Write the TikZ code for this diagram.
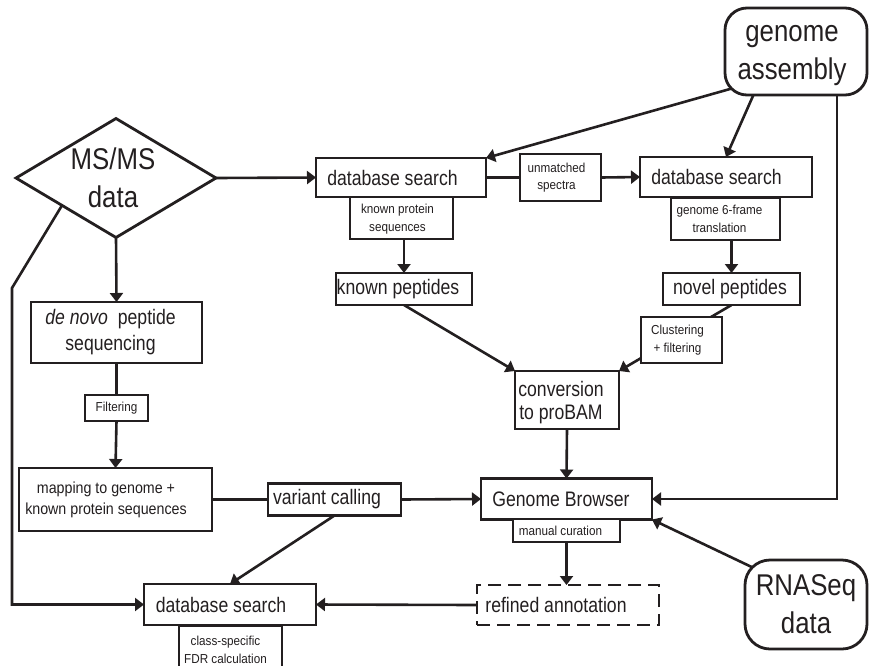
\documentclass[tikz,border=0pt]{standalone}
\usepackage{fontspec}
\setmainfont{Liberation Sans}
\newfontfamily\fbig{Liberation Sans}[FakeStretch=0.86]
\newfontfamily\fmed{Liberation Sans}[FakeStretch=0.84]
\newfontfamily\fmap{Liberation Sans}[FakeStretch=0.89]
\newfontfamily\fsmall{Liberation Sans}[FakeStretch=0.9]
\usetikzlibrary{shapes.geometric,arrows.meta,calc}
\pgfdeclarelayer{bg}
\pgfsetlayers{bg,main}
\definecolor{ink}{RGB}{35,31,32}
\newcommand{\Rs}[1]{\hspace*{#1pt}}
\newcommand{\Up}[1]{\rule{0pt}{#1pt}}
\begin{document}
\begin{tikzpicture}[x=1pt,y=-1pt,
  box/.style={draw=ink, line width=2.8pt, fill=white, inner sep=0pt, outer sep=0pt, align=center, text=ink},
  lbl/.style={draw=ink, line width=1.4pt, fill=white, inner sep=0pt, outer sep=0pt, align=center, text=ink, font=\fsmall\fontsize{13}{17.5}\selectfont},
  med/.style={font=\fmed\fontsize{21}{23}\selectfont},
  big/.style={font=\fbig\fontsize{30}{38}\selectfont},
  conn/.style={draw=ink, line width=2.6pt},
  arr/.style={conn, -{Triangle[length=9pt,width=13pt]}},
]
\useasboundingbox (0,0) rectangle (869,665);

% main nodes
\node[box, big, diamond, aspect=1.68, minimum width=200pt, minimum height=119pt] (ms) at (116,178) {MS/MS\Rs{6}\\data\Rs{6}};
\node[box, med, minimum width=170pt, minimum height=39pt] (db1) at (401,177.5) {database search\Rs{17}};
\node[box, med, minimum width=136pt, minimum height=32pt] (kp) at (404,289) {known peptides\Rs{12}};
\node[box, med, minimum width=172pt, minimum height=40pt] (db2) at (726,177) {database search\Rs{19}};
\node[box, med, minimum width=137pt, minimum height=32pt] (np) at (731.5,289) {novel peptides\Rs{3}};
\node[box, big, rounded corners=22pt, minimum width=142pt, minimum height=87pt] (ga) at (796,51.5) {\Up{24}genome\Rs{8}\\assembly\Rs{8}};
\node[box, med, minimum width=104pt, minimum height=58pt] (conv) at (567,400) {\Up{20}conversion\Rs{12}\\to proBAM\Rs{12}};
\node[box, med, minimum width=171pt, minimum height=41pt] (gb) at (566.5,499) {Genome Browser\Rs{11}};
\node[box, med, dash pattern=on 13pt off 7pt, minimum width=182pt, minimum height=40pt] (ra) at (568,605) {refined annotation\Rs{24}};
\node[box, big, rounded corners=25pt, minimum width=122pt, minimum height=89pt] (rna) at (806,604.5) {RNASeq\\data};
\node[box, font=\fmed\fontsize{21}{26}\selectfont, minimum width=171pt, minimum height=61pt] (dn) at (116.5,332.5) {\textit{de novo}\ \ peptide\Rs{12}\\sequencing\Rs{12}};
\node[box, font=\fmap\fontsize{16}{21}\selectfont, minimum width=193pt, minimum height=63pt] (map) at (115.5,499.5) {mapping to genome +\Rs{19}\\known protein sequences\Rs{19}};
\node[box, med, minimum width=133pt, minimum height=32pt] (vc) at (334.5,499.5) {variant calling\Rs{15}};
\node[box, med, minimum width=172pt, minimum height=41pt] (db3) at (230,604.5) {database search\Rs{18}};

% label boxes
\node[lbl, minimum width=103pt, minimum height=42pt] (kps) at (401.5,218) {\Up{12}known protein\Rs{8}\\sequences\Rs{8}};
\node[lbl, minimum width=81pt, minimum height=47pt] (um) at (560.5,177.5) {unmatched\Rs{8}\\spectra\Rs{8}};
\node[lbl, minimum width=109pt, minimum height=42pt] (g6) at (725.5,219) {genome 6-frame\Rs{12}\\translation\Rs{12}};
\node[lbl, minimum width=81pt, minimum height=46pt] (cl) at (681.5,340) {Clustering\Rs{8}\\+ filtering\Rs{8}};
\node[lbl, minimum width=107pt, minimum height=23pt] (mc) at (566.5,530.5) {manual curation\Rs{12}};
\node[lbl, minimum width=63pt, minimum height=26pt] (fl) at (116.5,408) {Filtering};
\node[lbl, minimum width=103pt, minimum height=48pt] (cs) at (230.5,650) {class-specific\Rs{10}\\FDR calculation\Rs{10}};

\coordinate (lc1) at (12,288);

\begin{pgfonlayer}{bg}
\draw[arr] (ms.east) -- (db1.west);
\draw[conn] (db1.east) -- (um.west);
\draw[arr] (um.east) -- (db2.west);
\draw[arr] (kps.south -| kp.north) -- (kp.north);
\draw[arr] (g6.south -| np.north) -- (np.north);
\draw[arr] ($(ga.south west)+(6.4,-6.4)$) -- (db1.north east);
\draw[arr] ($(ga.south west)!0.2!(ga.south east)$) -- (db2.north);
\draw[arr] ($(ga.south west)!0.79!(ga.south east)$) |- (gb.east);
\draw[arr] (kp.south) -- (conv.north west);
\draw[arr] (np.south) -- (conv.north east);
\draw[arr] (conv.south) -- (gb.north);
\draw[arr] (mc.south) -- (mc.south |- ra.north);
\draw[arr] ($(rna.north west)+(7.3,7.3)$) -- (gb.south east);
\draw[arr] (ra.west) -- (db3.east);
\draw[arr] (ms.south) -- (dn.north);
\draw[conn] (dn.south) -- (fl.north);
\draw[arr] (fl.south) -- (map.north);
\draw[conn] (map.east) -- (vc.west);
\draw[arr] (vc.east) -- (gb.west);
\draw[arr] (vc.south) -- (db3.north);
\draw[arr] ($(ms.west)!0.46!(ms.south)$) -- (lc1) |- (db3.west);
\end{pgfonlayer}
\end{tikzpicture}
\end{document}
